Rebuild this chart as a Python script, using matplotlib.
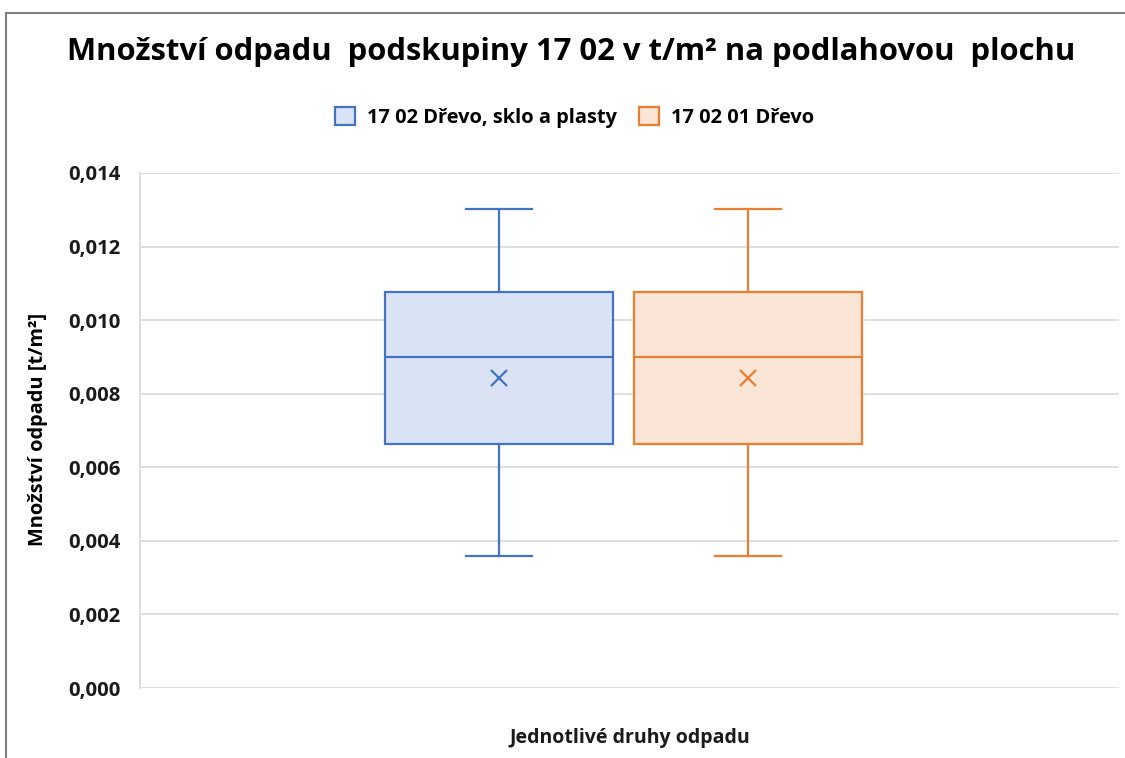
import matplotlib
matplotlib.use("Agg")
import matplotlib.pyplot as plt
from matplotlib.lines import Line2D
from matplotlib.patches import Patch
from matplotlib.ticker import FuncFormatter

plt.rcParams['font.family'] = ['Open Sans', 'DejaVu Sans']

# Data
series = ["17 02 Dřevo, sklo a plasty", "17 02 01 Dřevo"]
whisker_low = [0.00358, 0.00358]
q1 = [0.00663, 0.00663]
median = [0.00900, 0.00900]
mean = [0.00843, 0.00843]
q3 = [0.01077, 0.01077]
whisker_high = [0.01302, 0.01302]
y_ticks = [0.000, 0.002, 0.004, 0.006, 0.008, 0.010, 0.012, 0.014]

edge_colors = ["#4472C4", "#ED7D31"]
face_colors = ["#DAE3F3", "#FBE5D6"]

fig = plt.figure(figsize=(11.25, 7.58), dpi=100)
ax = fig.add_axes([0.1244, 0.0923, 0.8703, 0.6795])

positions = [0.3667, 0.621]
for i in range(len(series)):
    st = [dict(whislo=whisker_low[i], q1=q1[i], med=median[i], mean=mean[i],
               q3=q3[i], whishi=whisker_high[i], fliers=[], label=series[i])]
    ax.bxp(st, positions=[positions[i]], widths=0.232, showmeans=True,
           patch_artist=True, capwidths=0.068,
           boxprops=dict(facecolor=face_colors[i], edgecolor=edge_colors[i], linewidth=1.6),
           medianprops=dict(color=edge_colors[i], linewidth=1.6),
           whiskerprops=dict(color=edge_colors[i], linewidth=1.6),
           capprops=dict(color=edge_colors[i], linewidth=1.6),
           meanprops=dict(marker='x', markeredgecolor=edge_colors[i], markersize=12,
                          markeredgewidth=1.6))

ax.set_xlim(0, 1)
ax.set_ylim(0, 0.014)
ax.set_yticks(y_ticks)
ax.yaxis.set_major_formatter(FuncFormatter(lambda v, p: f"{v:.3f}".replace(".", ",")))
ax.set_xticks([])
ax.grid(axis='y', color='#D9D9D9', linewidth=1.2)
ax.set_axisbelow(True)
for s in ['top', 'right', 'bottom']:
    ax.spines[s].set_visible(False)
ax.spines['left'].set_color('#D9D9D9')
ax.spines['left'].set_linewidth(1.2)
ax.tick_params(axis='y', length=0, pad=14, labelsize=14.6, labelcolor='#1a1a1a')
for t in ax.get_yticklabels():
    t.set_fontweight('bold')

fig.text(0.034, 0.433, "Množství odpadu [t/m²]", rotation=90, ha='center', va='center',
         fontsize=14.4, fontweight='bold', color='#000000')
fig.text(0.56, 0.026, "Jednotlivé druhy odpadu", ha='center', va='center',
         fontsize=14, fontweight='bold', color='#1a1a1a')

fig.text(0.508, 0.932, "Množství odpadu  podskupiny 17 02 v t/m² na podlahovou  plochu",
         ha='center', va='center', fontsize=22.3, fontweight='bold', color='#000000')

handles = [Patch(facecolor=face_colors[i], edgecolor=edge_colors[i], linewidth=1.6)
           for i in range(len(series))]
fig.legend(handles, series, loc='center', bbox_to_anchor=(0.511, 0.845), ncol=2,
           frameon=False, prop=dict(size=14.4, weight='bold'), handlelength=1.0,
           handleheight=1.0, columnspacing=1.1, handletextpad=0.6)

fig.add_artist(Line2D([0.005, 1.0], [0.983, 0.983], color='#7F7F7F', linewidth=1.5,
                      transform=fig.transFigure))
fig.add_artist(Line2D([0.005, 0.005], [0.0, 0.983], color='#7F7F7F', linewidth=1.5,
                      transform=fig.transFigure))

fig.savefig("out.png", dpi=100)
